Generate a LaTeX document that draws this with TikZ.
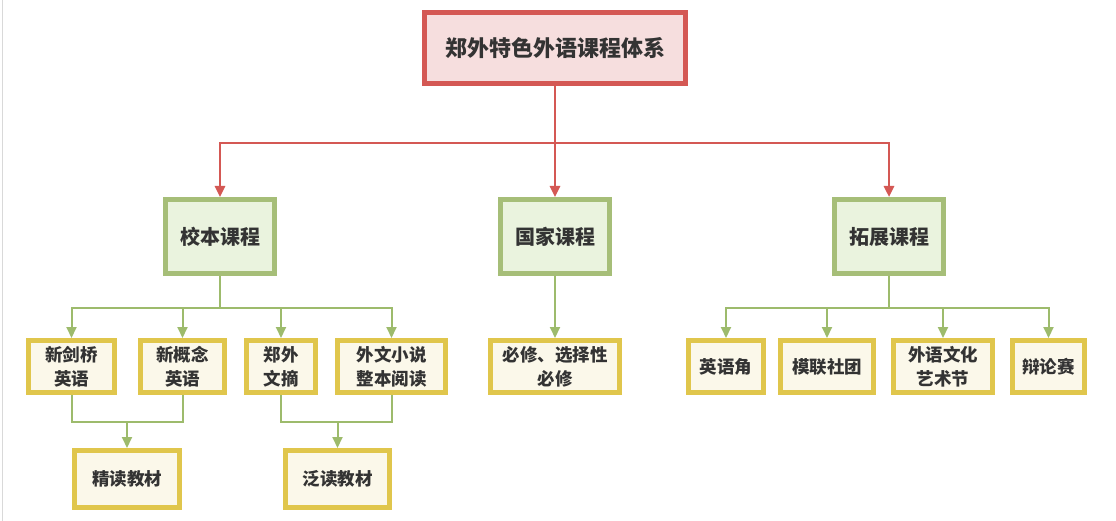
\documentclass[tikz,border=0pt]{standalone}
\usepackage{fontspec}
\setmainfont{Noto Sans CJK SC}
\usepackage{xcolor}
\usetikzlibrary{arrows.meta,calc}
\definecolor{rootred}{RGB}{212,88,84}
\definecolor{rootfill}{RGB}{246,222,222}
\definecolor{leafgreen}{RGB}{166,190,120}
\definecolor{linegreen}{RGB}{157,187,108}
\definecolor{greenfill}{RGB}{234,243,222}
\definecolor{gold}{RGB}{224,198,76}
\definecolor{cream}{RGB}{251,248,234}
\definecolor{ink}{RGB}{51,51,51}
\tikzset{
    rootbox/.style={rectangle,draw=rootred,line width=5pt,fill=rootfill,minimum width=261pt,minimum height=71pt,inner sep=2pt,font=\fontsize{22}{26}\selectfont\bfseries,text=ink},
    catbox/.style={rectangle,draw=leafgreen,line width=5pt,fill=greenfill,minimum width=109pt,minimum height=74pt,inner sep=2pt,font=\fontsize{20}{24}\selectfont\bfseries,text=ink},
    itembox/.style={rectangle,draw=gold,line width=5pt,fill=cream,minimum height=52pt,inner sep=2pt,align=center,font=\fontsize{17.5}{24}\selectfont\bfseries,text=ink},
    redline/.style={draw=rootred,line width=2.5pt},
    redarr/.style={redline,-{Triangle[length=11pt,width=10pt]}},
    greenline/.style={draw=linegreen,line width=2pt},
    greenarr/.style={greenline,-{Triangle[length=11pt,width=10pt]}},
}

\begin{document}
\begin{tikzpicture}[x=1pt,y=-1pt]
\useasboundingbox[fill=white] (0,0) rectangle (1116,521);
\draw[gray!30,line width=1pt] (2.5,0) -- (2.5,521);

\node[rootbox] (root) at (555,48) {郑外特色外语课程体系};

\node[catbox] (xiaoben) at (220,236.5) {校本课程};
\node[catbox] (guojia)  at (555,236.5) {国家课程};
\node[catbox] (tuozhan) at (889,236.5) {拓展课程};

\node[itembox,minimum width=86pt]  (jianqiao) at (71.5,366.5)  {新剑桥\\英语};
\node[itembox,minimum width=84pt]  (gainian)  at (182.5,366.5) {新概念\\英语};
\node[itembox,minimum width=69pt]  (wenzhai)  at (281,366.5)   {郑外\\文摘};
\node[itembox,minimum width=108pt] (xiaoshuo) at (391.5,366.5) {外文小说\\整本阅读};
\node[itembox,minimum width=129pt] (bixiu)    at (555,366.5)   {必修、选择性\\必修};
\node[itembox,minimum width=75pt]  (yingyu)   at (726,366.5)   {英语角};
\node[itembox,minimum width=93pt]  (molian)   at (827,366.5)   {模联社团};
\node[itembox,minimum width=99pt]  (yishu)    at (943,366.5)   {外语文化\\艺术节};
\node[itembox,minimum width=72pt]  (bianlun)  at (1048.5,366.5) {辩论赛};

\node[itembox,minimum width=105pt,minimum height=57pt] (jingdu) at (127,479)   {精读教材};
\node[itembox,minimum width=104pt,minimum height=57pt] (fandu)  at (337.5,479) {泛读教材};

% top level
\coordinate (rj) at (555,143);
\draw[redline] (root) -- (rj);
\draw[redarr] (rj) -| (xiaoben);
\draw[redarr] (rj) -- (guojia);
\draw[redarr] (rj) -| (tuozhan);

% school courses
\coordinate (xj) at (220,308);
\draw[greenline] (xiaoben) -- (xj);
\draw[greenarr] (xj) -| (jianqiao);
\draw[greenarr] (xj) -| (gainian);
\draw[greenarr] (xj) -| (wenzhai);
\draw[greenarr] (xj) -| (xiaoshuo);

\coordinate (jj) at (127,422);
\draw[greenline] (jianqiao.south) |- (jj) -| (gainian.south);
\draw[greenarr] (jj) -- (jingdu);
\coordinate (fj) at (337.5,422);
\draw[greenline] (wenzhai.south) |- (fj) -| (xiaoshuo.south);
\draw[greenarr] (fj) -- (fandu);

% national courses
\draw[greenarr] (guojia) -- (bixiu);

% extended courses
\coordinate (tj) at (889,308);
\draw[greenline] (tuozhan) -- (tj);
\draw[greenarr] (tj) -| (yingyu);
\draw[greenarr] (tj) -| (molian);
\draw[greenarr] (tj) -| (yishu);
\draw[greenarr] (tj) -| (bianlun);
\end{tikzpicture}
\end{document}
